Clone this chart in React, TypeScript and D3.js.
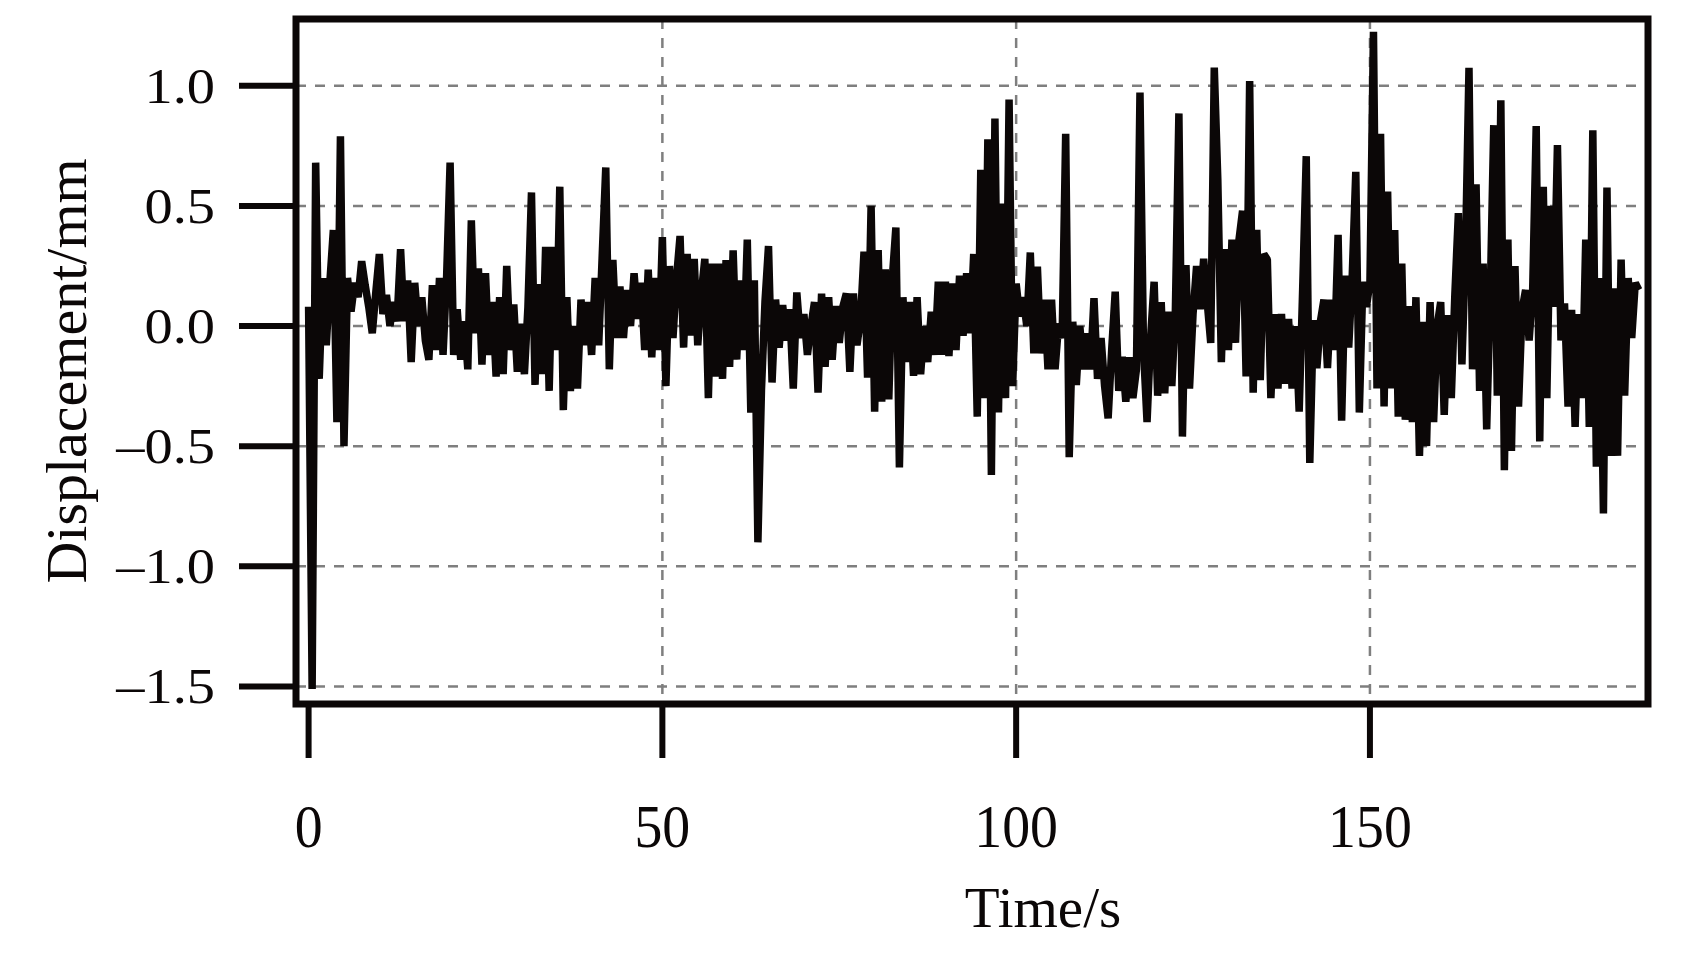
import React from 'react';
import * as d3 from 'd3';

// sample spacing (s) of the displacement record
const DT = 0.5;

// displacement (mm), one value every 0.5 s starting at t = 0
const displacement: number[] = [
  0.08, -1.51, 0.68, -0.22, 0.20, -0.08, 0.18, 0.40, -0.40, 0.79,
  -0.50, 0.20, 0.06, 0.18, 0.12, 0.27, 0.17, 0.08, -0.03, 0.14,
  0.30, 0.05, 0.13, 0.00, 0.10, 0.02, 0.32, 0.02, 0.19, -0.15,
  0.18, 0.00, 0.12, -0.06, -0.14, 0.17, -0.10, 0.20, -0.12, 0.20,
  0.68, -0.12, 0.07, -0.14, 0.02, -0.18, 0.44, -0.03, 0.24, -0.16,
  0.22, -0.12, 0.10, -0.21, 0.12, -0.20, 0.25, -0.10, 0.09, -0.19,
  0.01, -0.20, 0.08, 0.556, -0.245, 0.175, -0.20, 0.33, -0.27, 0.33,
  -0.10, 0.58, -0.35, 0.12, -0.27, 0.00, -0.26, 0.11, -0.08, 0.10,
  -0.12, 0.20, -0.08, 0.295, 0.66, -0.18, 0.275, -0.05, 0.165, -0.05,
  0.15, 0.00, 0.22, 0.03, 0.18, -0.10, 0.235, -0.13, 0.20, -0.10,
  0.37, -0.25, 0.25, -0.05, 0.20, 0.375, -0.09, 0.30, -0.04, 0.28,
  -0.08, 0.135, 0.28, -0.30, 0.26, -0.21, 0.26, -0.22, 0.275, -0.17,
  0.315, -0.14, 0.19, -0.10, 0.36, -0.36, 0.19, -0.90, -0.27, 0.10,
  0.333, -0.235, 0.11, -0.09, 0.087, -0.06, 0.07, -0.26, 0.14, -0.05,
  0.05, -0.12, 0.00, 0.10, -0.277, 0.135, -0.17, 0.12, -0.14, 0.083,
  -0.07, 0.08, 0.136, -0.19, 0.136, -0.08, 0.025, 0.31, -0.215, 0.50,
  -0.356, 0.316, -0.315, 0.236, -0.305, 0.20, 0.41, -0.588, 0.12, -0.15,
  0.10, -0.207, 0.12, -0.20, 0.00, -0.15, 0.06, -0.12, 0.185, -0.12,
  0.185, -0.125, 0.177, -0.10, 0.21, -0.04, 0.22, -0.03, 0.30, -0.377,
  0.65, -0.30, 0.777, -0.62, 0.864, -0.36, 0.51, -0.30, 0.943, -0.25,
  0.177, 0.04, 0.12, 0.00, 0.306, -0.114, 0.247, -0.114, 0.11, -0.18,
  0.11, -0.18, 0.01, -0.05, 0.80, -0.546, 0.018, -0.245, 0.00, -0.18,
  -0.03, -0.18, 0.116, -0.22, -0.05, -0.25, -0.384, -0.10, 0.143, -0.27,
  -0.128, -0.315, -0.13, -0.30, -0.18, 0.972, -0.10, -0.40, -0.05, 0.184,
  -0.29, 0.10, -0.28, 0.06, -0.25, 0.06, 0.885, -0.46, 0.254, -0.26,
  0.05, 0.25, 0.07, 0.28, 0.10, -0.07, 1.076, 0.61, -0.15, 0.32,
  -0.10, 0.36, -0.07, 0.36, 0.48, -0.21, 1.02, -0.277, 0.40, -0.225,
  0.30, 0.277, -0.30, 0.05, -0.26, 0.05, -0.24, 0.03, -0.26, 0.00,
  -0.356, 0.16, 0.707, -0.57, 0.025, -0.175, 0.02, 0.11, -0.175, 0.11,
  -0.10, 0.38, -0.394, 0.21, -0.09, 0.21, 0.642, -0.36, 0.184, 0.08,
  0.18, 1.225, -0.26, 0.80, -0.335, 0.56, -0.26, 0.40, -0.377, 0.26,
  -0.39, 0.083, -0.40, 0.12, -0.54, 0.018, -0.50, 0.10, -0.40, 0.00,
  0.10, -0.37, 0.046, -0.30, 0.13, 0.47, -0.16, 0.30, 1.075, -0.18,
  0.59, -0.27, 0.26, -0.43, 0.12, 0.836, -0.29, 0.94, -0.60, 0.36,
  -0.52, 0.25, -0.335, 0.067, 0.15, -0.06, 0.15, 0.832, -0.48, 0.58,
  -0.30, 0.50, 0.08, 0.753, -0.06, 0.094, -0.335, 0.067, -0.42, 0.05,
  -0.30, 0.36, -0.42, 0.815, -0.585, 0.20, -0.78, 0.577, -0.54, 0.157,
  -0.54, 0.277, -0.29, 0.20, -0.05, 0.18, 0.15,
];

const yTicks: number[] = [-1.5, -1.0, -0.5, 0.0, 0.5, 1.0];
const xTicks: number[] = [0, 50, 100, 150];
const xGridValues: number[] = [50, 100, 150];
const xTitle = 'Time/s';
const yTitle = 'Displacement/mm';

const FONT = '"Liberation Serif", "Times New Roman", Times, serif';

export default function App() {
  const W = 1686;
  const H = 956;
  const x = d3.scaleLinear().domain([-1.78, 189.3]).range([296, 1648]);
  const y = d3.scaleLinear().domain([-1.573, 1.278]).range([704, 19]);
  const [x0, x1] = x.range();
  const [y0, y1] = y.range();

  const line = d3
    .line<number>()
    .x((_, i) => x(i * DT))
    .y((d) => y(d));

  const fmtY = (v: number) => (v < 0 ? '\u2013' + Math.abs(v).toFixed(1) : v.toFixed(1));

  return (
    <svg
      width={W}
      height={H}
      viewBox={`0 0 ${W} ${H}`}
      style={{ position: 'absolute', left: 0, top: 0, background: '#fff' }}
    >
      <rect x={0} y={0} width={W} height={H} fill="#fff" />
      {/* grid */}
      <g stroke="#7f7f7f" strokeWidth={2.5} strokeDasharray="10 9">
        {yTicks.map((v) => (
          <line key={'gy' + v} x1={x0} x2={x1} y1={y(v)} y2={y(v)} />
        ))}
        {xGridValues.map((t) => (
          <line key={'gx' + t} x1={x(t)} x2={x(t)} y1={y1} y2={y0} />
        ))}
      </g>
      {/* data */}
      <path
        d={line(displacement) || ''}
        fill="none"
        stroke="#0b0707"
        strokeWidth={7.5}
        strokeLinejoin="bevel"
      />
      {/* frame */}
      <rect
        x={x0}
        y={y1}
        width={x1 - x0}
        height={y0 - y1}
        fill="none"
        stroke="#0b0707"
        strokeWidth={7}
      />
      {/* ticks */}
      <g stroke="#0b0707" strokeWidth={6}>
        {yTicks.map((v) => (
          <line key={'ty' + v} x1={239} x2={x0} y1={y(v)} y2={y(v)} />
        ))}
        {xTicks.map((t) => (
          <line key={'tx' + t} x1={x(t)} x2={x(t)} y1={y0} y2={758} />
        ))}
      </g>
      <g fill="#0b0707" fontFamily={FONT}>
        {yTicks.map((v) => (
          <text
            key={'ly' + v}
            transform={`translate(215, ${y(v) + 17}) scale(1.13, 1)`}
            textAnchor="end"
            fontSize={50}
          >
            {fmtY(v)}
          </text>
        ))}
        {xTicks.map((t) => (
          <text
            key={'lx' + t}
            transform={`translate(${x(t)}, 847) scale(0.9, 1)`}
            textAnchor="middle"
            fontSize={62}
          >
            {String(t)}
          </text>
        ))}
        <text x={1043} y={927} textAnchor="middle" fontSize={57}>
          {xTitle}
        </text>
        <text
          transform="translate(86, 371) rotate(-90)"
          textAnchor="middle"
          fontSize={58}
        >
          {yTitle}
        </text>
      </g>
    </svg>
  );
}
